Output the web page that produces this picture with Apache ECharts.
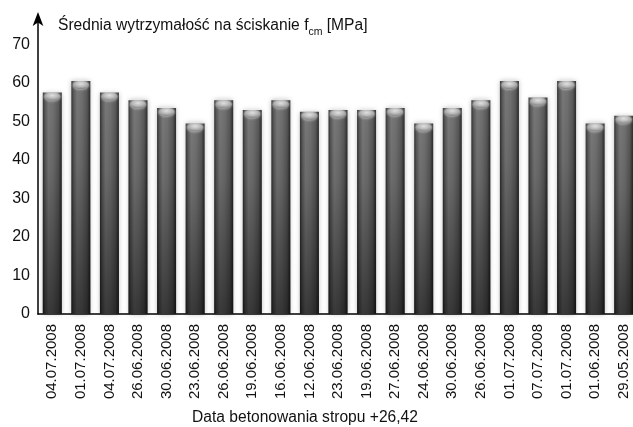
<!DOCTYPE html>
<html>
<head>
<meta charset="utf-8">
<script src="https://cdn.jsdelivr.net/npm/echarts@6/dist/echarts.min.js"></script>
<style>
  html, body { margin: 0; padding: 0; background: #fff; }
  #chart { width: 633px; height: 427px; }
</style>
</head>
<body>
<div id="chart"></div>
<script>
// Concreting dates of the slab and mean compressive strength per sample
const dates = [
  '04.07.2008', '01.07.2008', '04.07.2008', '26.06.2008', '30.06.2008',
  '23.06.2008', '26.06.2008', '19.06.2008', '16.06.2008', '12.06.2008',
  '23.06.2008', '19.06.2008', '27.06.2008', '24.06.2008', '30.06.2008',
  '26.06.2008', '01.07.2008', '07.07.2008', '01.07.2008', '01.06.2008',
  '29.05.2008'
];
const strength = [
  57.5, 60.5, 57.5, 55.5, 53.5,
  49.5, 55.5, 53.0, 55.5, 52.5,
  53.0, 53.0, 53.5, 49.5, 53.5,
  55.5, 60.5, 56.2, 60.5, 49.5,
  51.5
];
const yTicks = [0, 10, 20, 30, 40, 50, 60, 70];

const FONT = 'Liberation Sans, Arial, sans-serif';
const BAR_W = 19;

const chart = echarts.init(document.getElementById('chart'), null, { renderer: 'canvas' });

chart.setOption({
  animation: false,
  backgroundColor: '#fff',
  title: {
    text: '{t|Średnia wytrzymałość na ściskanie f}{s|cm}{t| [MPa]}',
    left: 58,
    top: 14,
    padding: 0,
    textStyle: {
      fontWeight: 'normal',
      rich: {
        t: { fontFamily: FONT, fontSize: 15.6, fontWeight: 'normal', color: '#111', verticalAlign: 'bottom', lineHeight: 20 },
        s: { fontFamily: FONT, fontSize: 10.5, fontWeight: 'normal', color: '#111', verticalAlign: 'bottom', lineHeight: 14, padding: [0, 0, -4, 0] }
      }
    }
  },
  grid: { left: 38, right: -5, top: 16, bottom: 113, containLabel: false, outerBoundsMode: 'none' },
  xAxis: {
    type: 'category',
    data: dates,
    axisLine: { lineStyle: { color: '#000', width: 1.5 } },
    axisTick: { show: false },
    axisLabel: {
      rotate: 90,
      interval: 0,
      margin: 10,
      fontFamily: FONT,
      fontSize: 15,
      color: '#111'
    },
    name: 'Data betonowania stropu +26,42',
    nameLocation: 'middle',
    nameGap: 96,
    nameTextStyle: { fontFamily: FONT, fontSize: 15.6, color: '#111', padding: [0, 66, 0, 0] }
  },
  yAxis: {
    type: 'value',
    min: 0,
    max: 77.4,
    interval: 10,
    splitLine: { show: false },
    axisTick: { show: false },
    axisLine: {
      show: true,
      symbol: ['none', 'arrow'],
      symbolSize: [8, 14],
      symbolOffset: [0, 4],
      lineStyle: { color: '#000', width: 1.5 }
    },
    axisLabel: {
      showMaxLabel: false,
      margin: 8,
      fontFamily: FONT,
      fontSize: 16,
      color: '#111',
      formatter: v => (yTicks.indexOf(v) >= 0 ? String(v) : '')
    }
  },
  series: [
    {
      // cylinder body with side shading
      type: 'bar',
      data: strength,
      barWidth: BAR_W,
      z: 2,
      itemStyle: {
        color: new echarts.graphic.LinearGradient(0, 0, 1, 0, [
          { offset: 0, color: '#2a2a2a' },
          { offset: 0.12, color: '#525252' },
          { offset: 0.3, color: '#727272' },
          { offset: 0.55, color: '#6a6a6a' },
          { offset: 0.82, color: '#525252' },
          { offset: 1, color: '#222' }
        ]),
        shadowColor: 'rgba(0,0,0,0.3)',
        shadowBlur: 5
      }
    },
    {
      // darkening toward the base
      type: 'bar',
      data: strength,
      barWidth: BAR_W,
      barGap: '-100%',
      z: 3,
      silent: true,
      itemStyle: {
        color: new echarts.graphic.LinearGradient(0, 0, 0, 1, [
          { offset: 0, color: 'rgba(255,255,255,0.05)' },
          { offset: 0.35, color: 'rgba(0,0,0,0.05)' },
          { offset: 1, color: 'rgba(0,0,0,0.5)' }
        ])
      }
    },
    {
      // lit top cap
      type: 'pictorialBar',
      data: strength,
      symbol: 'circle',
      symbolSize: [BAR_W - 3, 8],
      symbolPosition: 'end',
      symbolOffset: [0, 0],
      z: 4,
      silent: true,
      itemStyle: {
        color: new echarts.graphic.RadialGradient(0.5, 0.35, 0.7, [
          { offset: 0, color: '#e0e0e0' },
          { offset: 0.5, color: '#b8b8b8' },
          { offset: 1, color: '#7a7a7a' }
        ]),
        shadowColor: 'rgba(255,255,255,0.8)',
        shadowBlur: 3
      }
    }
  ]
});
</script>
</body>
</html>
